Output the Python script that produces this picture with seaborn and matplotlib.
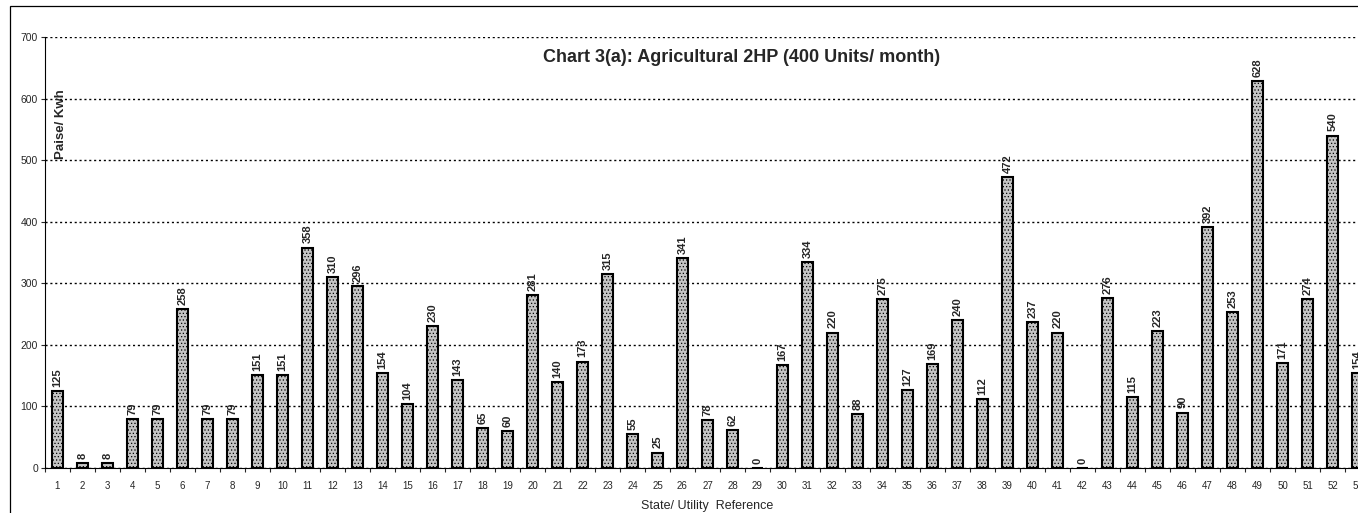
import numpy as np
import pandas as pd
import matplotlib
matplotlib.use("Agg")
import matplotlib.pyplot as plt
import seaborn as sns
from matplotlib.patches import Rectangle

# data
refs = [str(i) for i in range(1, 54)]
paise_per_kwh = [125, 8, 8, 79, 79, 258, 79, 79, 151, 151,
                 358, 310, 296, 154, 104, 230, 143, 65, 60, 281,
                 140, 173, 315, 55, 25, 341, 78, 62, 0, 167,
                 334, 220, 88, 275, 127, 169, 240, 112, 472, 237,
                 220, 0, 276, 115, 223, 90, 392, 253, 628, 171,
                 274, 540, 154]
y_ticks = [0, 100, 200, 300, 400, 500, 600, 700]

df = pd.DataFrame({'Ref': refs, 'Value': paise_per_kwh})

sns.set_style('white')
plt.rcParams['font.family'] = ['Liberation Sans', 'DejaVu Sans']
plt.rcParams['hatch.linewidth'] = 0.5

fig = plt.figure(figsize=(13.58, 5.13), dpi=100)
ax = fig.add_axes([0.0331, 0.0877, 0.9757, 0.840])

sns.barplot(data=df, x='Ref', y='Value', order=refs, ax=ax,
            color='#c4c4c4', edgecolor='black', linewidth=1.5,
            width=0.43, saturation=1)
for bar in ax.patches:
    bar.set_hatch('.....')

ax.bar_label(ax.containers[0], rotation=90, padding=3, fontsize=8,
             fontweight='bold')

# axes look
ax.set_ylim(0, 700)
ax.set_xlim(-0.5, len(refs) - 0.5)
ax.set_yticks(y_ticks)
ax.tick_params(axis='y', labelsize=7.5, length=3, width=0.8, pad=2, left=True)
ax.tick_params(axis='x', which='major', labelsize=7, length=0, pad=9)
ax.set_xticks(np.arange(-0.5, len(refs), 1), minor=True)
ax.tick_params(axis='x', which='minor', length=3, width=0.8, bottom=True)
ax.yaxis.grid(True, linestyle=(0, (1.5, 2)), color='black', linewidth=1.0)
ax.set_axisbelow(True)
for side in ['top', 'right']:
    ax.spines[side].set_visible(False)
ax.spines['left'].set_linewidth(0.8)
ax.spines['bottom'].set_linewidth(0.8)
ax.spines['left'].set_color('black')
ax.spines['bottom'].set_color('black')

ax.set_ylabel('')
ax.set_xlabel('State/ Utility  Reference', fontsize=9, labelpad=2)
ax.xaxis.set_label_coords(0.5, -0.075)
ax.text(0.012, 0.88, 'Paise/ Kwh', rotation=90, transform=ax.transAxes,
        fontsize=9.5, fontweight='bold', va='top', ha='center')

fig.text(0.546, 0.888, 'Chart 3(a): Agricultural 2HP (400 Units/ month)',
         fontsize=13, fontweight='bold', ha='center', va='center')

# page frame
fig.patches.append(Rectangle((0.0074, -0.1), 1.2, 1.088, transform=fig.transFigure,
                             fill=False, edgecolor='black', linewidth=0.9))

fig.savefig('out.png', dpi=100)
